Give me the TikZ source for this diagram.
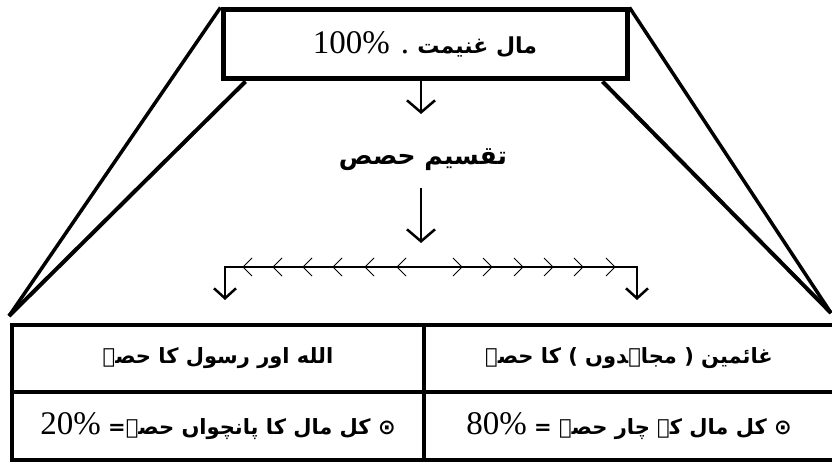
\documentclass[tikz,border=0pt]{standalone}
\usepackage{fontspec}
\setmainfont{Liberation Serif}
\newfontfamily\urdu[Script=Arabic]{DejaVu Sans}
\TeXXeTstate=1
\usetikzlibrary{arrows.meta}
\tikzset{mybarb/.tip={Straight Barb[length=10pt,width=22pt,line width=2.5pt]}}
\begin{document}
\begin{tikzpicture}[x=1pt,y=-1pt,
  boxstyle/.style={draw, line width=5pt, inner sep=0pt},
  cell/.style={draw, line width=4pt, inner sep=0pt},
  arr/.style={line width=2.5pt, -{Straight Barb[length=12pt,width=28pt,line width=2.5pt]}},
  chev/.style={line width=0.9pt},
  diag/.style={line width=3.5pt},
]
\newcommand\urtxt{\urdu\bfseries\fontsize{21}{25}\selectfont}
\newcommand\lattxt{\rmfamily\mdseries\fontsize{33}{38}\selectfont}
\useasboundingbox (0,0) rectangle (832,462);

% top box
\node[boxstyle, minimum width=404pt, minimum height=69pt] (top) at (425,44.5)
  {\lattxt\beginR{\urdu\bfseries\fontsize{22}{26}\selectfont مال غنیمت} . \beginL 100\%\endL\endR};

% label
\node[font=\urdu\bfseries\fontsize{25}{30}\selectfont] (split) at (423,160) {\beginR تقسیم حصص\endR};

% arrows
\coordinate (a1) at (421,114);
\coordinate (a2s) at (421,188);
\coordinate (a2e) at (421,243);
\draw[arr] (top.south -| a1) -- (a1);
\draw[arr] (a2s) -- (a2e);

% bracket
\coordinate (bl) at (225,267);
\coordinate (br) at (637,267);
\coordinate (bld) at (225,300);
\coordinate (brd) at (637,300);
\draw[line width=2.5pt, line join=miter, mybarb-mybarb] (bld) -- (bl) -- (br) -- (brd);
\foreach \x in {243,273,303,333,365,397}
  \draw[chev] (\x+9,258) -- (\x,267) -- (\x+9,276);
\foreach \x in {462,492,523,553,583,615}
  \draw[chev] (\x-9,258) -- (\x,267) -- (\x-9,276);

% table
\node[cell, minimum width=412pt, minimum height=67pt] (h1) at (218,358.5)
  {\urtxt\beginR الله اور رسول کا حصہ\endR};
\node[cell, minimum width=410pt, minimum height=67pt] (h2) at (629,358.5)
  {\urtxt\beginR غائمین ( مجاہدوں ) کا حصہ\endR};
\node[cell, minimum width=412pt, minimum height=68pt] (d1) at (218,426)
  {\urtxt\beginR ⊙ کل مال کا پانچواں حصہ\kern0pt= {\lattxt\beginL 20\%\endL}\endR};
\node[cell, minimum width=410pt, minimum height=68pt] (d2) at (629,426)
  {\urtxt\beginR ⊙ کل مال کے چار حصے = {\lattxt\beginL 80\%\endL}\endR};

% diagonals
\coordinate (LC) at (9,316);
\coordinate (RC) at (831,313);
\draw[diag] (top.north west) -- (LC);
\draw[diag, line width=4pt] ([xshift=25pt]top.south west) -- (LC);
\draw[diag] (top.north east) -- (RC);
\draw[diag, line width=4pt] ([xshift=-27pt]top.south east) -- (RC);
\end{tikzpicture}
\end{document}
